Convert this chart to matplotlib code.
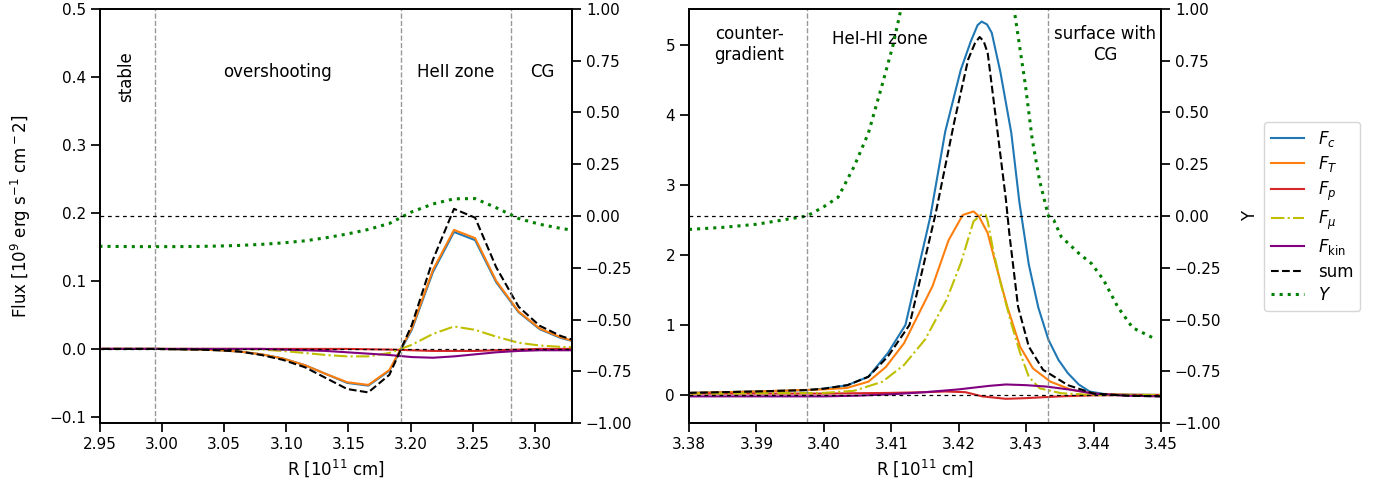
import matplotlib
matplotlib.use("Agg")
import matplotlib.pyplot as plt

# ---------------- Left panel data ----------------
xL = [2.943, 2.960, 2.977, 2.994, 3.011, 3.029, 3.046, 3.063, 3.080, 3.097, 3.115, 3.132,
      3.149, 3.166, 3.183, 3.201, 3.218, 3.235, 3.252, 3.269, 3.287, 3.304, 3.321, 3.338]
FT_L = [0, 0, 0, 0, -0.0005, -0.001, -0.002, -0.004, -0.008, -0.014, -0.024, -0.037,
        -0.049, -0.053, -0.031, 0.030, 0.116, 0.175, 0.163, 0.100, 0.055, 0.030, 0.017, 0.008]
Fc_L = [0, 0, 0, 0, -0.0005, -0.001, -0.002, -0.004, -0.008, -0.014, -0.024, -0.037,
        -0.050, -0.054, -0.032, 0.028, 0.113, 0.172, 0.160, 0.098, 0.054, 0.029, 0.016, 0.008]
Fp_L = [0, 0, 0, 0, 0, 0, 0, 0, 0, 0, 0, 0,
        0, -0.0005, -0.001, -0.002, -0.003, -0.003, -0.003, -0.002, -0.001, 0, 0, 0]
Fmu_L = [0, 0, 0, 0, 0, 0, 0, 0, -0.001, -0.003, -0.006, -0.009,
         -0.011, -0.011, -0.006, 0.006, 0.022, 0.033, 0.028, 0.018, 0.009, 0.005, 0.003, 0.002]
Fkin_L = [0, 0, 0, 0, 0, 0, 0, 0, 0, -0.001, -0.002, -0.003,
          -0.005, -0.007, -0.009, -0.012, -0.013, -0.011, -0.008, -0.005, -0.003, -0.002, -0.002, -0.002]
sum_L = [0, 0, 0, 0, -0.0005, -0.001, -0.002, -0.004, -0.009, -0.016, -0.027, -0.043,
         -0.059, -0.064, -0.038, 0.035, 0.131, 0.206, 0.193, 0.120, 0.062, 0.034, 0.019, 0.009]
Y_L = [-0.146, -0.147, -0.148, -0.148, -0.148, -0.147, -0.145, -0.142, -0.137, -0.130, -0.120, -0.105,
       -0.087, -0.065, -0.036, 0.020, 0.058, 0.083, 0.084, 0.040, -0.012, -0.040, -0.060, -0.075]

# ---------------- Right panel data ----------------
xFc_R = [3.380, 3.390, 3.3975, 3.400, 3.4035, 3.4066, 3.4095, 3.4121, 3.4143, 3.4158, 3.418,
         3.4203, 3.4218, 3.4228, 3.4234, 3.4242, 3.4249, 3.4262, 3.4278, 3.4290, 3.4304, 3.4318,
         3.4333, 3.4348, 3.4362, 3.4378, 3.4394, 3.4415, 3.445, 3.450]
Fc_R = [0.03, 0.05, 0.07, 0.09, 0.14, 0.26, 0.60, 1.00, 1.92, 2.55, 3.76,
        4.64, 5.05, 5.28, 5.33, 5.29, 5.17, 4.60, 3.74, 2.75, 1.86, 1.25,
        0.79, 0.50, 0.31, 0.15, 0.05, 0.015, 0.005, 0.0]

xFT_R = [3.380, 3.390, 3.400, 3.4034, 3.4066, 3.4092, 3.4119, 3.4161, 3.4185, 3.4206, 3.4222,
         3.4230, 3.4243, 3.4256, 3.4272, 3.4291, 3.4310, 3.4336, 3.4368, 3.4405, 3.445, 3.450]
FT_R = [0.03, 0.05, 0.08, 0.10, 0.19, 0.40, 0.74, 1.55, 2.21, 2.57, 2.62,
        2.55, 2.31, 1.83, 1.26, 0.69, 0.38, 0.19, 0.07, 0.015, 0.005, 0.0]

xFp_R = [3.380, 3.390, 3.400, 3.410, 3.415, 3.418, 3.421, 3.4235, 3.427, 3.430, 3.435, 3.440, 3.450]
Fp_R = [0.02, 0.02, 0.02, 0.03, 0.04, 0.05, 0.04, -0.02, -0.055, -0.045, -0.02, -0.005, 0.0]

xFmu_R = [3.380, 3.390, 3.400, 3.4045, 3.4087, 3.4119, 3.415, 3.4182, 3.4203, 3.4222, 3.4233,
          3.4240, 3.4243, 3.4251, 3.4262, 3.4278, 3.4291, 3.4304, 3.4320, 3.4352, 3.440, 3.450]
Fmu_R = [0.02, 0.025, 0.03, 0.06, 0.19, 0.43, 0.79, 1.36, 1.88, 2.48, 2.57,
         2.57, 2.48, 2.07, 1.60, 1.02, 0.60, 0.26, 0.095, 0.025, 0.0, 0.0]

xFkin_R = [3.380, 3.390, 3.400, 3.405, 3.410, 3.415, 3.420, 3.4245, 3.427, 3.430, 3.433, 3.437, 3.440, 3.445, 3.450]
Fkin_R = [-0.02, -0.02, -0.02, -0.01, 0.01, 0.04, 0.08, 0.13, 0.15, 0.14, 0.12, 0.07, 0.02, -0.01, -0.02]

xsum_R = [3.380, 3.390, 3.3975, 3.400, 3.4035, 3.4066, 3.4095, 3.4127, 3.4166, 3.4193, 3.4214,
          3.4224, 3.4231, 3.4237, 3.4243, 3.4256, 3.4270, 3.4275, 3.4288, 3.4304, 3.4325, 3.4362,
          3.440, 3.445, 3.450]
sum_R = [0.03, 0.05, 0.07, 0.09, 0.14, 0.26, 0.55, 1.00, 2.60, 3.88, 4.79,
         5.02, 5.11, 5.05, 4.88, 3.88, 2.79, 2.31, 1.26, 0.69, 0.36, 0.14,
         0.02, -0.01, -0.02]

xY_R = [3.380, 3.385, 3.390, 3.3975, 3.400, 3.4021, 3.4045, 3.4066, 3.4087, 3.4103, 3.4113, 3.414,
        3.420, 3.426, 3.4283, 3.4299, 3.4309, 3.432, 3.4333, 3.4341, 3.4352, 3.4378, 3.4397, 3.4415,
        3.4436, 3.4458, 3.4489]
Y_R = [-0.065, -0.055, -0.04, 0.0, 0.045, 0.09, 0.24, 0.40, 0.64, 0.83, 0.98, 1.5,
       2.5, 1.6, 0.98, 0.63, 0.37, 0.17, 0.0, -0.02, -0.10, -0.18, -0.23, -0.31,
       -0.44, -0.54, -0.59]

# zone boundaries
vlines_L = [2.9944, 3.1925, 3.281]
vlines_R = [3.3975, 3.4332]

plt.rcParams.update({
    "font.size": 12,
    "axes.labelsize": 12,
    "xtick.labelsize": 11,
    "ytick.labelsize": 11,
    "legend.fontsize": 12,
    "axes.linewidth": 1.25,
    "xtick.major.width": 1.25,
    "ytick.major.width": 1.25,
    "xtick.major.size": 6.5,
    "ytick.major.size": 6.5,
})

fig = plt.figure(figsize=(13.77, 4.92), dpi=100)
axL = fig.add_axes([100 / 1377, 1 - 423 / 492, 472 / 1377, 414 / 492])
axR = fig.add_axes([689 / 1377, 1 - 423 / 492, 472 / 1377, 414 / 492])


def draw(ax, xs, fc, ft, fp, fmu, fkin, fsum, xy, yv, vl):
    l1, = ax.plot(xs[0], fc, color="C0", lw=1.5, label=r"$F_c$")
    l2, = ax.plot(xs[1], ft, color="C1", lw=1.5, label=r"$F_T$")
    l3, = ax.plot(xs[2], fp, color="C3", lw=1.5, label=r"$F_p$")
    l4, = ax.plot(xs[3], fmu, color="y", lw=1.5, ls="-.", label=r"$F_\mu$")
    l5, = ax.plot(xs[4], fkin, color="purple", lw=1.5, label=r"$F_{\rm kin}$")
    l6, = ax.plot(xs[5], fsum, color="k", lw=1.5, ls="--", label="sum")
    ax.axhline(0, color="k", lw=0.9, ls=(0, (3, 3)))
    for v in vl:
        ax.axvline(v, color="gray", lw=1.0, ls="--", alpha=0.8)
    tw = ax.twinx()
    l7, = tw.plot(xy, yv, color="g", lw=2.2, ls=":", label=r"$Y$")
    tw.axhline(0, color="k", lw=0.9, ls=(0, (3, 3)))
    tw.set_ylim(-1, 1)
    tw.set_yticks([-1, -0.75, -0.5, -0.25, 0, 0.25, 0.5, 0.75, 1.0])
    tw.set_yticklabels(["\u22121.00", "\u22120.75", "\u22120.50", "\u22120.25", "0.00",
                        "0.25", "0.50", "0.75", "1.00"])
    ax.set_xlabel(r"R [10$^{11}$ cm]")
    return tw, [l1, l2, l3, l4, l5, l6, l7]


twL, handles = draw(axL, [xL] * 6, Fc_L, FT_L, Fp_L, Fmu_L, Fkin_L, sum_L, xL, Y_L, vlines_L)
axL.set_xlim(2.95, 3.33)
axL.set_ylim(-0.109, 0.5)
axL.set_xticks([2.95, 3.00, 3.05, 3.10, 3.15, 3.20, 3.25, 3.30])
axL.set_yticks([-0.1, 0.0, 0.1, 0.2, 0.3, 0.4, 0.5])
axL.set_ylabel(r"Flux [10$^9$ erg s$^{-1}$ cm$^-2$]", labelpad=12)

twR, _ = draw(axR, [xFc_R, xFT_R, xFp_R, xFmu_R, xFkin_R, xsum_R], Fc_R, FT_R, Fp_R, Fmu_R,
              Fkin_R, sum_R, xY_R, Y_R, vlines_R)
axR.set_xlim(3.38, 3.45)
axR.set_ylim(-0.4, 5.51)
axR.set_xticks([3.38, 3.39, 3.40, 3.41, 3.42, 3.43, 3.44, 3.45])
axR.set_yticks([0, 1, 2, 3, 4, 5])
twR.set_ylabel("Y", labelpad=14)

# zone labels
tr = axL.get_xaxis_transform()
axL.text(2.971, 0.836, "stable", rotation=90, ha="center", va="center", transform=tr)
axL.text(3.093, 0.848, "overshooting", ha="center", va="center", transform=tr)
axL.text(3.236, 0.848, "HeII zone", ha="center", va="center", transform=tr)
axL.text(3.306, 0.848, "CG", ha="center", va="center", transform=tr)

tr = axR.get_xaxis_transform()
axR.text(3.3889, 0.915, "counter-\ngradient", ha="center", va="center", multialignment="center", transform=tr)
axR.text(3.4083, 0.928, "HeI-HI zone", ha="center", va="center", transform=tr)
axR.text(3.4417, 0.915, "surface with\nCG", ha="center", va="center", multialignment="center", transform=tr)

fig.legend(handles=handles, loc="center left", labelspacing=0.33,
           bbox_to_anchor=(1256 / 1377, 1 - 216.5 / 492))

fig.savefig("out.png", dpi=100)
